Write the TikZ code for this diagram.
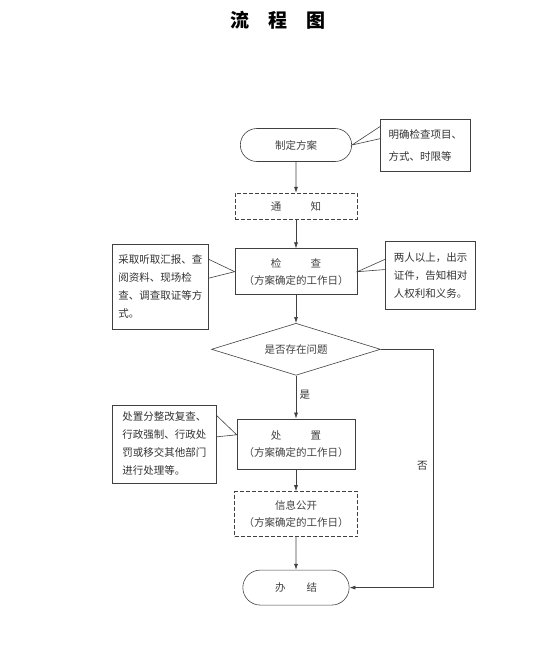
\documentclass[tikz,border=0pt]{standalone}
\usepackage{fontspec}
\setmainfont{Noto Sans CJK SC}
\usepackage{tikz}
\usetikzlibrary{shapes.geometric, shapes.misc, arrows.meta, positioning, calc}

\begin{document}
\begin{tikzpicture}[
    x=1pt, y=-1pt,
    line width=0.6pt,
    stepbox/.style={rectangle, draw=black!75, minimum width=122pt, minimum height=46pt,
                    inner sep=2pt, text=black!75, align=center,
                    font=\fontsize{10.5}{17}\selectfont},
    dashbox/.style={stepbox, dash pattern=on 4pt off 2pt},
    endbox/.style={rounded rectangle, draw=black!75, minimum width=118pt, minimum height=33pt,
                   text=black!75, font=\fontsize{10.5}{17}\selectfont},
    decbox/.style={diamond, draw=black!75, aspect=3.2, inner sep=0pt,
                   minimum width=169pt, minimum height=52pt, text=black!75,
                   font=\fontsize{10.5}{17}\selectfont},
    notebox/.style={rectangle, draw=black!75, fill=white, align=left, inner sep=4pt,
                    text=black!80, font=\fontsize{10.5}{18}\selectfont},
    arrow/.style={-{Latex[length=6pt, width=4pt]}, draw=black!75},
    pointer/.style={draw=black!75}
]
\useasboundingbox (0,0) rectangle (554,666);

% title
\node[font=\fontsize{19}{19}\selectfont\bfseries] (title) at (278,20) {流\quad 程\quad 图};

% main column
\node[endbox] (plan) at (296,145) {制定方案};
\node[dashbox, minimum height=26pt, below=31pt of plan] (notice) {通\hspace{2.8em}知};
\node[stepbox, below=29pt of notice] (check) {检\hspace{2.8em}查\\（方案确定的工作日）};
\node[decbox, below=28pt of check] (decide) {是否存在问题};
\node[stepbox, minimum width=118pt, minimum height=50pt, below=43pt of decide] (handle)
    {处\hspace{2.8em}置\\（方案确定的工作日）};
\node[dashbox, minimum width=123pt, minimum height=45pt, below=22pt of handle] (info)
    {信息公开\\（方案确定的工作日）};
\node[endbox, minimum width=113pt, minimum height=35pt, below=33pt of info] (finish)
    {办\hspace{2em}结};

% notes
\node[notebox, minimum width=90pt, minimum height=52pt, right=28pt of plan,
      font=\fontsize{10.5}{22}\selectfont] (note1) {明确检查项目、\\方式、时限等};
\node[notebox, minimum width=96pt, minimum height=85pt, left=26pt of check, yshift=-15pt] (note2)
    {采取听取汇报、查\\阅资料、现场检\\查、调查取证等方\\式。};
\node[notebox, minimum width=90pt, minimum height=68pt, right=28pt of check, yshift=-4pt] (note3)
    {两人以上，出示\\证件，告知相对\\人权利和义务。};
\node[notebox, minimum width=104pt, minimum height=78pt, left=20pt of handle] (note4)
    {处置分整改复查、\\行政强制、行政处\\罚或移交其他部门\\进行处理等。};

% pointers of the notes
\draw[pointer] ($(note1.north west)!0.15!(note1.south west)$) -- (plan.east)
    -- ($(note1.north west)!0.38!(note1.south west)$);
\draw[pointer] ($(note2.north east)!0.18!(note2.south east)$) -- (check.west)
    -- ($(note2.north east)!0.40!(note2.south east)$);
\draw[pointer] ($(note3.north west)!0.26!(note3.south west)$) -- (check.east)
    -- ($(note3.north west)!0.41!(note3.south west)$);
\draw[pointer] ($(note4.north east)!0.14!(note4.south east)$)
    -- ($(handle.north west)!0.32!(handle.south west)$)
    -- ($(note4.north east)!0.41!(note4.south east)$);

% flow
\draw[arrow] (plan) -- (notice);
\draw[arrow] (notice) -- (check);
\draw[arrow] (check) -- (decide);
\draw[arrow] (decide) -- node[right, pos=0.45, font=\fontsize{10.5}{12}\selectfont, text=black!80]{是} (handle);
\draw[arrow] (handle) -- (info);
\draw[arrow] (info) -- (finish);
\draw[arrow] (decide.east) -- ++(52,0)
    |- node[left, pos=0.245, inner sep=5pt, font=\fontsize{10.5}{12}\selectfont, text=black!80]{否} (finish.east);

\end{tikzpicture}
\end{document}
